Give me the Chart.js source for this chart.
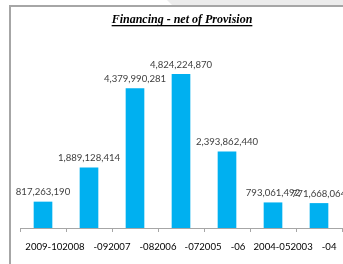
<!DOCTYPE html>
<html>
<head>
<meta charset="utf-8">
<script src="https://cdn.jsdelivr.net/npm/chart.js@4"></script>
<style>
  html, body { margin: 0; padding: 0; background: #fff; }
  #wrap { width: 343px; height: 264px; }
</style>
</head>
<body>
<div id="wrap"><canvas id="graph" width="343" height="264"></canvas></div>
<script>
const title = 'Financing - net of Provision';

const years = ['2009-10', '2008-09', '2007-08', '2006-07', '2005-06', '2004-05', '2003-04'];
const financing = [817263190, 1889128414, 4379990281, 4824224870, 2393862440, 793061492, 771668064];

// the axis text as it shows in the picture (labels run into each other)
const tickText = ['2009-102008', '-092007', '-082006', '-072005', '-06', '2004-052003', '-04'];
const tickSlot = [0.26, 1.5, 2.5, 3.48, 4.24, 5.22, 6.22];

const fmt = (v) => v.toLocaleString('en-US');

const frame = {
	id: 'frame',
	beforeDraw(chart) {
		const ctx = chart.ctx;
		ctx.save();
		ctx.fillStyle = '#fff';
		ctx.fillRect(0, 0, chart.width, chart.height);
		ctx.fillStyle = '#ececec';
		ctx.beginPath();
		ctx.moveTo(167, 0);
		ctx.lineTo(chart.width, 0);
		ctx.lineTo(chart.width, 5);
		ctx.lineTo(172, 5);
		ctx.closePath();
		ctx.fill();
		ctx.fillStyle = '#a6a6a6';
		ctx.fillRect(9, 5, 2, chart.height - 5);
		ctx.fillRect(9, 5, chart.width - 9, 2);
		ctx.restore();
	},
	afterDraw(chart) {
		const ctx = chart.ctx;
		ctx.save();
		ctx.font = 'italic bold 12px "Liberation Serif"';
		ctx.fillStyle = '#000';
		ctx.textAlign = 'center';
		ctx.textBaseline = 'alphabetic';
		const cx = 182;
		ctx.fillText(title, cx, 23);
		const w = ctx.measureText(title).width;
		ctx.fillRect(cx - w / 2, 25, w, 1.3);
		ctx.restore();
	},
};

const valueLabels = {
	id: 'valueLabels',
	afterDatasetsDraw(chart) {
		const ctx = chart.ctx;
		ctx.save();
		ctx.font = '9.6px Lato';
		ctx.fillStyle = '#404040';
		ctx.textAlign = 'center';
		ctx.textBaseline = 'bottom';
		chart.getDatasetMeta(0).data.forEach((bar, i) => {
			ctx.fillText(fmt(financing[i]), bar.x, bar.y - 5);
		});
		ctx.restore();
	},
};

const c = new Chart(document.getElementById('graph'), {
	type: 'bar',
	data: {
		labels: years,
		datasets: [
			{
				label: title,
				data: financing,
				backgroundColor: '#00b0f0',
				borderWidth: 0,
				barThickness: 18,
			},
		],
	},
	options: {
		responsive: false,
		animation: false,
		layout: { padding: { top: 37, left: 20, right: 1, bottom: 0 } },
		scales: {
			x: {
				position: 'bottom',
				ticks: { display: false },
				grid: { drawOnChartArea: false, tickLength: 4, color: '#a6a6a6', offset: true },
				border: { color: '#a6a6a6' },
				afterFit: (axis) => { axis.height = 5; },
			},
			x2: {
				type: 'linear',
				position: 'bottom',
				bounds: 'data',
				offset: false,
				min: -0.5,
				max: 6.5,
				grid: { display: false, offset: false },
				border: { display: false },
				afterBuildTicks: (axis) => {
					axis.ticks = tickSlot.map((v) => ({ value: v }));
				},
				ticks: {
					autoSkip: false,
					maxRotation: 0,
					padding: 0,
					color: '#000',
					font: { family: 'Lato', size: 9.6 },
					callback: (v, i) => tickText[i],
				},
				afterFit: (axis) => { axis.height = 31; },
			},
			y: {
				display: false,
				min: 0,
				max: 6000000000,
			},
		},
		plugins: {
			legend: { display: false },
			tooltip: { enabled: false },
		},
	},
	plugins: [frame, valueLabels],
});
</script>
</body>
</html>
